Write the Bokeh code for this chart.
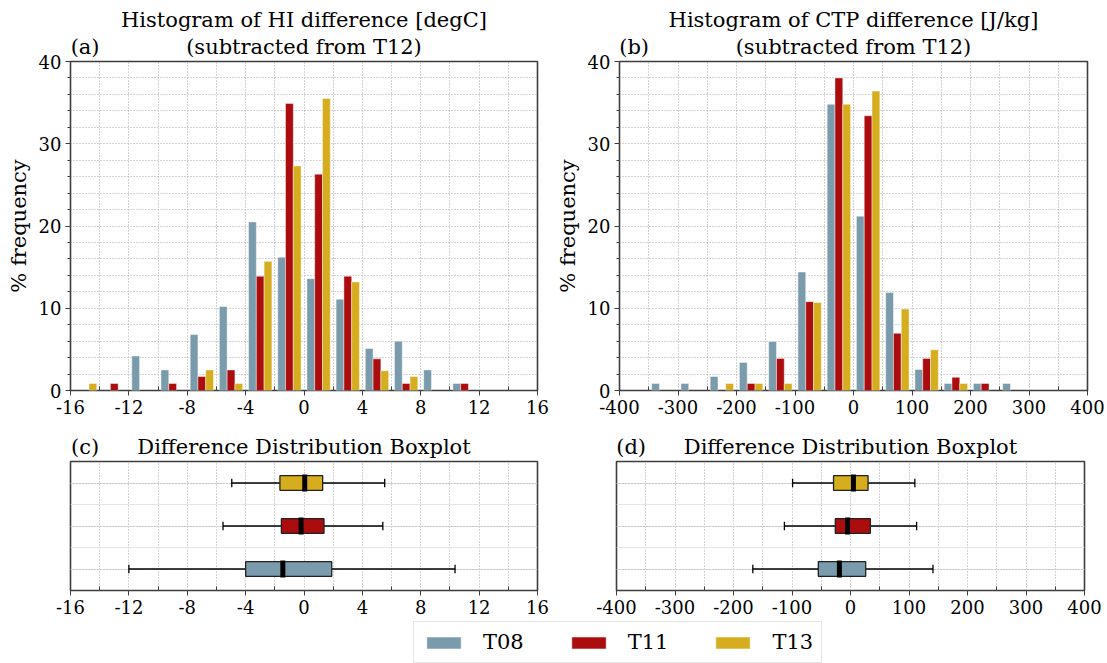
import numpy as np
from bokeh.plotting import figure
from bokeh.layouts import row, column
from bokeh.models import (Range1d, FixedTicker, Legend, LegendItem, Grid, LinearAxis,
                          CustomJSTickFormatter)
from bokeh.embed import file_html
from bokeh.resources import INLINE

# ---------------- data ----------------
series = ["T08", "T11", "T13"]
colors = ["#7a9bac", "#ab0d0e", "#d5ad1f"]

# (a) HI difference histogram, bin left edges (bin width 2 degC), % frequency
hi_edges = [-16, -14, -12, -10, -8, -6, -4, -2, 0, 2, 4, 6, 8, 10, 12, 14]
hi_T08 = [0, 0, 4.2, 2.5, 6.8, 10.2, 20.5, 16.2, 13.6, 11.1, 5.1, 6.0, 2.5, 0.85, 0, 0]
hi_T11 = [0, 0.85, 0, 0.85, 1.7, 2.5, 13.9, 34.9, 26.3, 13.9, 3.85, 0.85, 0, 0.85, 0, 0]
hi_T13 = [0.85, 0, 0, 0, 2.5, 0.85, 15.7, 27.3, 35.5, 13.2, 2.4, 1.7, 0, 0, 0, 0]

# (b) CTP difference histogram, bin left edges (bin width 50 J/kg), % frequency
ctp_edges = [-400, -350, -300, -250, -200, -150, -100, -50, 0, 50, 100, 150, 200, 250, 300, 350]
ctp_T08 = [0, 0.85, 0.85, 1.7, 3.4, 5.95, 14.4, 34.8, 21.2, 11.9, 2.55, 0.85, 0.85, 0.85, 0, 0]
ctp_T11 = [0, 0, 0, 0, 0.85, 3.9, 10.8, 38.0, 33.4, 6.95, 3.9, 1.6, 0.85, 0, 0, 0]
ctp_T13 = [0, 0, 0, 0.85, 0.85, 0.85, 10.7, 34.8, 36.4, 9.9, 4.95, 0.85, 0, 0, 0, 0]

# (c) boxplot stats HI: [whisker low, q1, median, q3, whisker high]
hi_box = {
    "T08": [-12.0, -4.0, -1.45, 1.9, 10.35],
    "T11": [-5.55, -1.55, -0.2, 1.37, 5.4],
    "T13": [-4.95, -1.65, 0.05, 1.28, 5.53],
}
# (d) boxplot stats CTP
ctp_box = {
    "T08": [-167, -55, -19, 26, 141],
    "T11": [-113, -26, -5, 34, 113],
    "T13": [-99, -29, 5, 30, 110],
}

hi_xticks = [-16, -12, -8, -4, 0, 4, 8, 12, 16]
hi_xminor = [-14, -10, -6, -2, 2, 6, 10, 14]
ctp_xticks = [-400, -300, -200, -100, 0, 100, 200, 300, 400]
ctp_xminor = [-350, -250, -150, -50, 50, 150, 250, 350]
yticks = [0, 10, 20, 30, 40]
yminor = [2, 4, 6, 8, 12, 14, 16, 18, 22, 24, 26, 28, 32, 34, 36, 38]

titles_a = ["Histogram of HI difference [degC]", "(subtracted from T12)"]
titles_b = ["Histogram of CTP difference [J/kg]", "(subtracted from T12)"]
title_box = "Difference Distribution Boxplot"

FONT = "DejaVu Serif"
SPINE = "#3d3d3d"
GRIDC = "#a9a9a9"

FH_HIST = 329
FH_BOX = 129
FW_L, ML_L, MR_L = 467, 70, 15
FW_R, ML_R, MR_R = 468, 64, 23

minus_fmt = "return tick.toString();"


def style_common(p):
    p.outline_line_color = SPINE
    p.outline_line_width = 1.6
    p.background_fill_color = "white"
    p.border_fill_color = "white"


def style_xaxis(p, ticks, minor):
    p.xaxis.ticker = FixedTicker(ticks=ticks, minor_ticks=minor)
    ax = p.xaxis[0]
    ax.formatter = CustomJSTickFormatter(code=minus_fmt)
    ax.axis_line_color = None
    ax.major_label_text_font = FONT
    ax.major_label_text_font_size = "18px"
    ax.major_label_text_color = "black"
    ax.major_label_standoff = 4
    ax.major_tick_line_color = SPINE
    ax.major_tick_out = 5
    ax.major_tick_in = 0
    ax.minor_tick_line_color = SPINE
    ax.minor_tick_out = 0
    ax.minor_tick_in = 4
    p.xgrid.grid_line_color = GRIDC
    p.xgrid.grid_line_dash = "1 2"
    p.xgrid.grid_line_width = 1
    p.xgrid.minor_grid_line_color = GRIDC
    p.xgrid.minor_grid_line_dash = "1 2"
    p.xgrid.minor_grid_line_width = 1


def add_heading(p, xr, subtitle, tag, title=None):
    """Heading above the frame: tag at the left, subtitle centred, optional title above it."""
    tag_x = xr[0] + (xr[1] - xr[0]) / 32.0
    mid_x = (xr[0] + xr[1]) / 2.0
    ax = LinearAxis(ticker=FixedTicker(ticks=[tag_x, mid_x]),
                    major_label_overrides={tag_x: tag, mid_x: subtitle})
    ax.axis_line_color = None
    ax.major_tick_line_color = None
    ax.minor_tick_line_color = None
    ax.major_tick_out = 0
    ax.major_label_standoff = 3
    ax.major_label_text_font = FONT
    ax.major_label_text_font_size = "21px"
    ax.major_label_text_color = "black"
    if title:
        ax.axis_label = title
        ax.axis_label_text_font = FONT
        ax.axis_label_text_font_size = "21px"
        ax.axis_label_text_font_style = "normal"
        ax.axis_label_text_color = "black"
        ax.axis_label_standoff = 0
    p.add_layout(ax, "above")


def hist_fig(edges, vals_list, binw, xr, xticks, xminor, fw, ml, mr, titles, tag):
    p = figure(frame_width=fw, frame_height=FH_HIST, min_border_left=ml, min_border_right=mr,
               min_border_top=61, min_border_bottom=35,
               x_range=Range1d(*xr), y_range=Range1d(0, 40),
               output_backend="svg", toolbar_location=None)
    style_common(p)
    e = np.asarray(edges, dtype=float)
    bw = binw * 0.8 / len(vals_list)
    for k, (vals, col) in enumerate(zip(vals_list, colors)):
        v = np.asarray(vals, dtype=float)
        xc = e + binw * 0.1 + bw * (k + 0.5)
        m = v > 0
        p.vbar(x=xc[m], top=v[m], bottom=0, width=bw, fill_color=col,
               line_color="white", line_alpha=0.55, line_width=0.8)
    style_xaxis(p, xticks, xminor)
    p.yaxis.ticker = FixedTicker(ticks=yticks, minor_ticks=yminor)
    ay = p.yaxis[0]
    ay.formatter = CustomJSTickFormatter(code=minus_fmt)
    ay.axis_line_color = None
    ay.major_label_text_font = FONT
    ay.major_label_text_font_size = "18px"
    ay.major_label_text_color = "black"
    ay.major_label_standoff = 4
    ay.major_tick_line_color = SPINE
    ay.major_tick_out = 5
    ay.major_tick_in = 0
    ay.minor_tick_line_color = SPINE
    ay.minor_tick_out = 3
    ay.minor_tick_in = 0
    ay.axis_label = "% frequency"
    ay.axis_label_text_font = FONT
    ay.axis_label_text_font_size = "21px"
    ay.axis_label_text_font_style = "normal"
    ay.axis_label_text_color = "black"
    ay.axis_label_standoff = 5
    p.ygrid.grid_line_color = GRIDC
    p.ygrid.grid_line_dash = "1 2"
    p.ygrid.minor_grid_line_color = GRIDC
    p.ygrid.minor_grid_line_dash = "1 2"
    add_heading(p, xr, titles[1], tag, titles[0])
    return p


def box_fig(stats, xr, xticks, xminor, fw, ml, mr, tag):
    p = figure(frame_width=fw, frame_height=FH_BOX, min_border_left=ml, min_border_right=mr,
               min_border_top=36, min_border_bottom=30,
               x_range=Range1d(*xr), y_range=Range1d(0.5, 3.5), y_axis_location=None,
               output_backend="svg", toolbar_location=None)
    style_common(p)
    style_xaxis(p, xticks, xminor)
    p.add_layout(Grid(dimension=1, ticker=FixedTicker(ticks=[1, 2, 3]),
                      grid_line_color=GRIDC, grid_line_dash="1 2"))
    ys = np.arange(1, len(series) + 1, dtype=float)
    st = np.array([stats[s] for s in series], dtype=float)
    lo, q1, med, q3, hi = st.T
    p.segment(x0=lo, y0=ys, x1=q1, y1=ys, line_color="black", line_width=1.3)
    p.segment(x0=q3, y0=ys, x1=hi, y1=ys, line_color="black", line_width=1.3)
    p.segment(x0=lo, y0=ys - 0.1, x1=lo, y1=ys + 0.1, line_color="black", line_width=1.3)
    p.segment(x0=hi, y0=ys - 0.1, x1=hi, y1=ys + 0.1, line_color="black", line_width=1.3)
    p.hbar(y=ys, left=q1, right=q3, height=0.34, fill_color=colors,
           line_color="#222222", line_width=1.3)
    p.segment(x0=med, y0=ys - 0.2, x1=med, y1=ys + 0.2, line_color="black", line_width=5)
    add_heading(p, xr, title_box, tag)
    return p


pa = hist_fig(hi_edges, [hi_T08, hi_T11, hi_T13], 2, (-16, 16), hi_xticks, hi_xminor,
              FW_L, ML_L, MR_L, titles_a, "(a)")
pb = hist_fig(ctp_edges, [ctp_T08, ctp_T11, ctp_T13], 50, (-400, 400), ctp_xticks, ctp_xminor,
              FW_R, ML_R, MR_R, titles_b, "(b)")
pc = box_fig(hi_box, (-16, 16), hi_xticks, hi_xminor, FW_L, ML_L, MR_L, "(c)")
pd = box_fig(ctp_box, (-400, 400), ctp_xticks, ctp_xminor, FW_R, ML_R, MR_R, "(d)")

# legend strip
W = FW_L + ML_L + MR_L + FW_R + ML_R + MR_R
pl = figure(width=W, height=43, x_range=Range1d(0, 1), y_range=Range1d(0, 1),
            x_axis_location=None, y_axis_location=None, min_border=0,
            output_backend="svg", toolbar_location=None)
pl.outline_line_color = None
pl.xgrid.visible = False
pl.ygrid.visible = False
items = []
for s, c in zip(series, colors):
    r = pl.vbar(x=[np.nan], top=[np.nan], width=0.1, fill_color=c, line_color="white",
                line_alpha=0.55)
    items.append(LegendItem(label=s, renderers=[r]))
leg = Legend(items=items, orientation="horizontal", location=(413, 0),
             glyph_width=43, glyph_height=15, label_standoff=18, spacing=43,
             padding=8, margin=0, label_text_font=FONT, label_text_font_size="21px",
             label_text_color="black", border_line_color="#cccccc", border_line_width=1,
             background_fill_color="white", background_fill_alpha=1)
pl.add_layout(leg, "center")

layout = column(row(pa, pb), row(pc, pd), pl)
open("out.html", "w").write(file_html(layout, INLINE))
